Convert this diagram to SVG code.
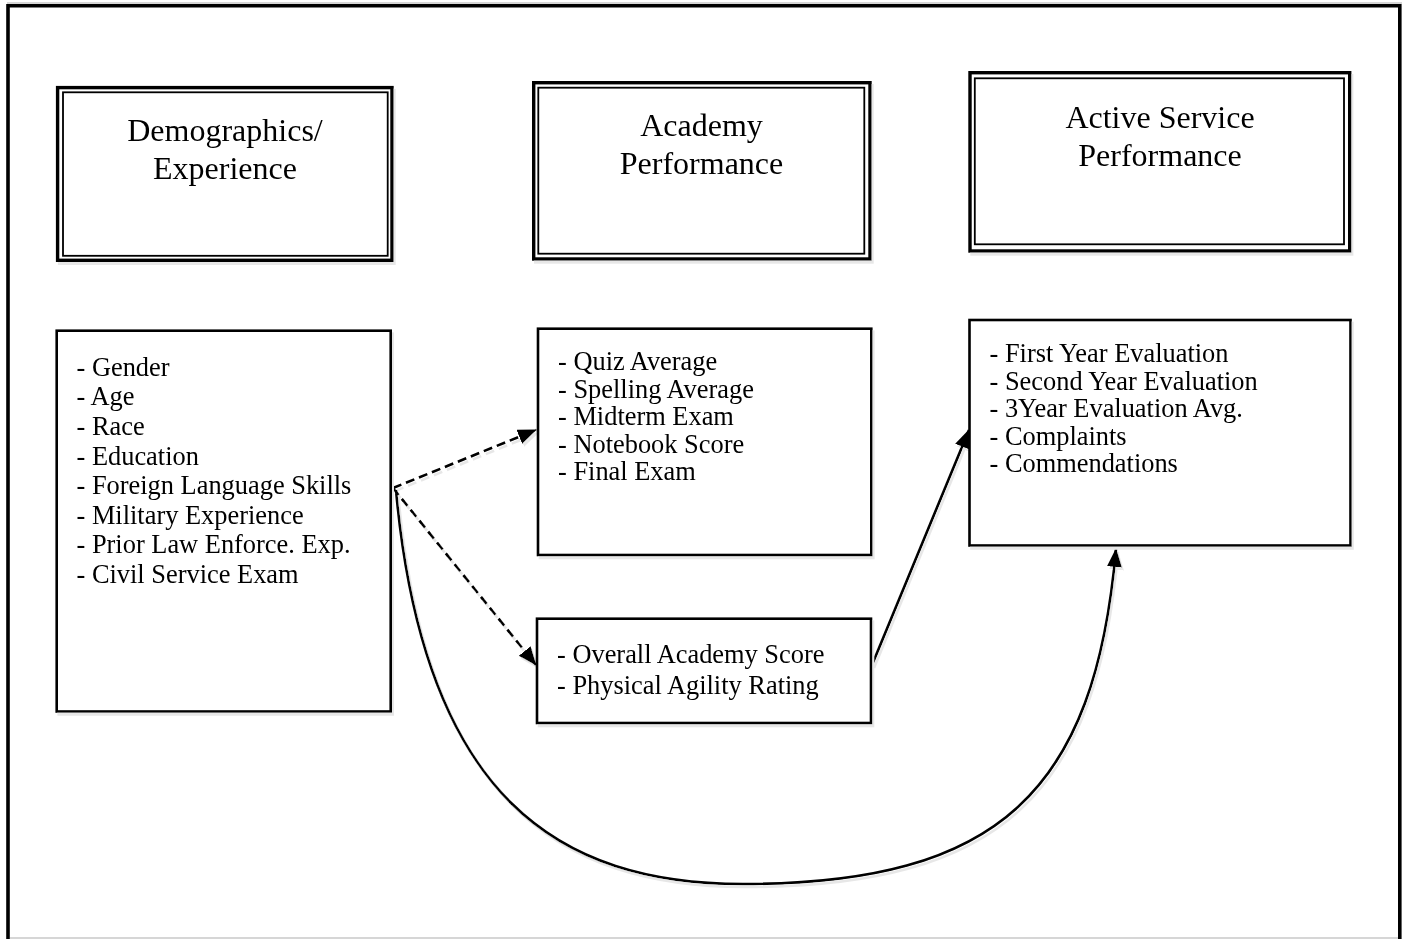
<svg xmlns="http://www.w3.org/2000/svg" width="1406" height="939" viewBox="0 0 1406 939">
  <style>
    .head { font-family: "Liberation Serif", "Times New Roman", serif; font-size: 32px; fill: #000; text-anchor: middle; }
    .item { font-family: "Liberation Serif", "Times New Roman", serif; font-size: 26.4px; fill: #000; }
    .frame-outer { fill: #fff; stroke: #000; stroke-width: 3.4; }
    .frame-inner { fill: none; stroke: #000; stroke-width: 1.8; }
    .box { fill: #fff; stroke: #000; stroke-width: 2.6; }
    .edge { fill: none; stroke: #000; stroke-width: 2.6; }
    .dash { stroke-dasharray: 9 5; }
    .rule { stroke: #c8c8c8; stroke-width: 1.5; }
  </style>
  <defs>
    <filter id="shade" x="-10%" y="-10%" width="120%" height="120%">
      <feOffset in="SourceAlpha" dx="2" dy="3" result="off"/>
      <feColorMatrix in="off" type="matrix" values="0 0 0 0 0.8  0 0 0 0 0.8  0 0 0 0 0.8  0 0 0 1 0" result="grey"/>
      <feMerge>
        <feMergeNode in="grey"/>
        <feMergeNode in="SourceGraphic"/>
      </feMerge>
    </filter>
    <marker id="head" markerUnits="userSpaceOnUse" markerWidth="20" markerHeight="16" refX="18" refY="7.5" orient="auto">
      <path d="M0,0 L19,7.5 L0,15 Z" fill="#000" stroke="none"/>
    </marker>
  </defs>

  <rect width="1406" height="939" fill="#fff"/>

  <!-- page frame -->
  <line class="rule" x1="7" y1="3" x2="1402" y2="3"/>
  <line class="rule" x1="10" y1="938" x2="1398" y2="938"/>
  <path d="M8,939 V5.8 H1399.8 V939" fill="none" stroke="#000" stroke-width="3.6"/>

  <!-- column headings -->
  <g id="head-demographics" filter="url(#shade)">
    <rect class="frame-outer" x="57.6" y="87.6" width="334.4" height="172.7"/>
    <rect class="frame-inner" x="63" y="92.3" width="324.7" height="163.5"/>
    <text class="head" x="225" y="141">Demographics/</text>
    <text class="head" x="225" y="179">Experience</text>
  </g>
  <g id="head-academy" filter="url(#shade)">
    <rect class="frame-outer" x="533.7" y="82.7" width="336.3" height="176.3"/>
    <rect class="frame-inner" x="538.3" y="87.7" width="326" height="166"/>
    <text class="head" x="701.5" y="136">Academy</text>
    <text class="head" x="701.5" y="174">Performance</text>
  </g>
  <g id="head-service" filter="url(#shade)">
    <rect class="frame-outer" x="970" y="72.7" width="379.7" height="178.3"/>
    <rect class="frame-inner" x="974.8" y="78.3" width="369.2" height="166"/>
    <text class="head" x="1160" y="128">Active Service</text>
    <text class="head" x="1160" y="166">Performance</text>
  </g>

  <!-- connectors -->
  <g id="connectors" filter="url(#shade)">
    <path class="edge dash" d="M393,488 L536,430" marker-end="url(#head)"/>
    <path class="edge dash" d="M393,488 L536,665" marker-end="url(#head)"/>
    <path class="edge" d="M872,665 L969,430" marker-end="url(#head)"/>
    <path class="edge" d="M396,490 C424,800 560,884 743,884 C1000,884 1095,790 1116,549" marker-end="url(#head)"/>
  </g>

  <!-- variable lists -->
  <g id="list-demographics" filter="url(#shade)">
    <rect class="box" x="56.7" y="330.7" width="334" height="380.8"/>
    <text class="item" x="76.5" y="375.7">- Gender</text>
    <text class="item" x="76.5" y="405.3">- Age</text>
    <text class="item" x="76.5" y="434.9">- Race</text>
    <text class="item" x="76.5" y="464.5">- Education</text>
    <text class="item" x="76.5" y="494.1">- Foreign Language Skills</text>
    <text class="item" x="76.5" y="523.7">- Military Experience</text>
    <text class="item" x="76.5" y="553.3">- Prior Law Enforce. Exp.</text>
    <text class="item" x="76.5" y="582.9">- Civil Service Exam</text>
  </g>
  <g id="list-academy" filter="url(#shade)">
    <rect class="box" x="538" y="328.7" width="333.3" height="226.3"/>
    <text class="item" x="558" y="370">- Quiz Average</text>
    <text class="item" x="558" y="397.5">- Spelling Average</text>
    <text class="item" x="558" y="425">- Midterm Exam</text>
    <text class="item" x="558" y="452.5">- Notebook Score</text>
    <text class="item" x="558" y="480">- Final Exam</text>
  </g>
  <g id="list-scores" filter="url(#shade)">
    <rect class="box" x="537" y="618.7" width="334" height="104.3"/>
    <text class="item" x="557" y="663">- Overall Academy Score</text>
    <text class="item" x="557" y="694">- Physical Agility Rating</text>
  </g>
  <g id="list-service" filter="url(#shade)">
    <rect class="box" x="969.5" y="320" width="381" height="225.5"/>
    <text class="item" x="989.5" y="362">- First Year Evaluation</text>
    <text class="item" x="989.5" y="389.5">- Second Year Evaluation</text>
    <text class="item" x="989.5" y="417">- 3Year Evaluation Avg.</text>
    <text class="item" x="989.5" y="444.5">- Complaints</text>
    <text class="item" x="989.5" y="472">- Commendations</text>
  </g>
</svg>
